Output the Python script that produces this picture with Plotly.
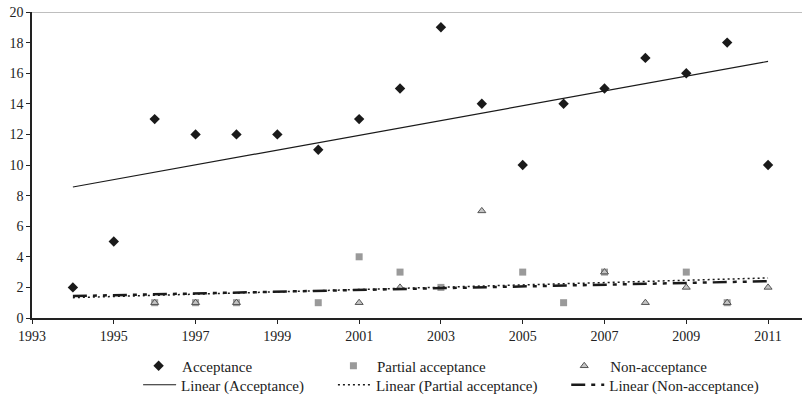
import numpy as np
import plotly.graph_objects as go

# Yearly counts per response category
acc_years = [1994, 1995, 1996, 1997, 1998, 1999, 2000, 2001, 2002,
             2003, 2004, 2005, 2006, 2007, 2008, 2009, 2010, 2011]
acc_values = [2, 5, 13, 12, 12, 12, 11, 13, 15, 19, 14, 10, 14, 15, 17, 16, 18, 10]

part_years = [1996, 1997, 1998, 2000, 2001, 2002, 2003, 2005, 2006, 2007, 2009, 2010]
part_values = [1, 1, 1, 1, 4, 3, 2, 3, 1, 3, 3, 1]

non_years = [1996, 1997, 1998, 2001, 2002, 2004, 2007, 2008, 2009, 2010, 2011]
non_values = [1, 1, 1, 1, 2, 7, 3, 1, 2, 1, 2]

x_ticks = list(range(1993, 2012, 2))
y_ticks = list(range(0, 21, 2))

FONT = "Liberation Serif, Times New Roman, serif"
trend_x = np.array([1994, 2011])


def trend(xs, ys):
    slope, intercept = np.polyfit(xs, ys, 1)
    return slope * trend_x + intercept


fig = go.Figure()

# Scatter points
fig.add_trace(go.Scatter(
    x=acc_years, y=acc_values, mode="markers", name="Acceptance",
    marker=dict(symbol="diamond", size=8, color="#1a1a1a"),
    legend="legend"))
fig.add_trace(go.Scatter(
    x=part_years, y=part_values, mode="markers", name="Partial acceptance",
    marker=dict(symbol="square", size=7, color="#9a9a9a"),
    legend="legend2"))
fig.add_trace(go.Scatter(
    x=non_years, y=non_values, mode="markers", name="Non-acceptance",
    marker=dict(symbol="triangle-up", size=7, color="#c4c4c4",
                line=dict(color="#555555", width=1)),
    legend="legend3"))

# Least-squares trend lines
fig.add_trace(go.Scatter(
    x=trend_x, y=trend(acc_years, acc_values), mode="lines",
    name="Linear (Acceptance)",
    line=dict(color="#1a1a1a", width=1.2), legend="legend4"))
fig.add_trace(go.Scatter(
    x=trend_x, y=trend(part_years, part_values), mode="lines",
    name="Linear (Partial acceptance)",
    line=dict(color="#1a1a1a", width=1.5, dash="2px,3px"), legend="legend5"))
fig.add_trace(go.Scatter(
    x=trend_x, y=trend(non_years, non_values), mode="lines",
    name="Linear (Non-acceptance)",
    line=dict(color="#1a1a1a", width=2.5, dash="14px,6px,4px,6px,4px,6px"),
    legend="legend6"))

legend_common = dict(
    orientation="v", yanchor="middle", xanchor="left",
    font=dict(family=FONT, size=15, color="#222"),
    bgcolor="rgba(0,0,0,0)",
)
row1, row2 = -0.157, -0.219
col1, col2, col3 = 0.143, 0.396, 0.699
px = 1 / 770  # one pixel in paper units along x

fig.update_layout(
    width=802, height=395,
    margin=dict(l=32, r=0, t=12, b=77, autoexpand=False),
    paper_bgcolor="white", plot_bgcolor="white",
    font=dict(family=FONT, size=14, color="#222"),
    showlegend=True,
    legend=dict(x=col1 - 7 * px, y=row1, itemwidth=37, **legend_common),
    legend2=dict(x=col2 - 7 * px, y=row1, itemwidth=37, **legend_common),
    legend3=dict(x=col3 - 12 * px, y=row1, itemwidth=42, **legend_common),
    legend4=dict(x=col1 - 4 * px, y=row2, itemwidth=33, **legend_common),
    legend5=dict(x=col2 - 4 * px, y=row2, itemwidth=33, **legend_common),
    legend6=dict(x=col3 - 4 * px, y=row2, itemwidth=33, **legend_common),
    xaxis=dict(
        range=[1993, 2011.83], tickvals=x_ticks, ticktext=[str(t) for t in x_ticks],
        showgrid=False, zeroline=False, showline=True, linecolor="#222",
        linewidth=1.5, ticks="outside", ticklen=4, tickcolor="#222",
        tickfont=dict(family=FONT, size=14, color="#222"),
    ),
    yaxis=dict(
        range=[0, 20], tickvals=y_ticks, showgrid=False, zeroline=False,
        showline=True, linecolor="#222", linewidth=1.5, ticks="outside",
        ticklen=4, tickcolor="#222",
        tickfont=dict(family=FONT, size=14, color="#222"),
    ),
    shapes=[dict(type="line", xref="paper", x0=0, x1=1, yref="y", y0=20, y1=20,
                 line=dict(color="#a8a8a8", width=1.5), layer="below")],
)

fig.write_html("out.html")
